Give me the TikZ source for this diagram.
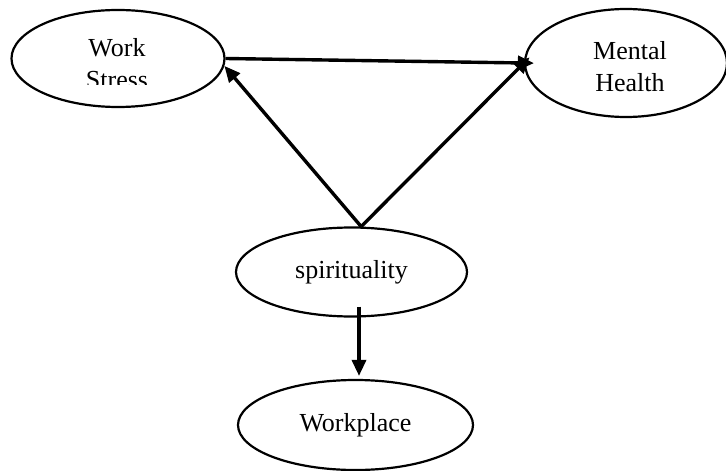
\documentclass[tikz,border=0pt]{standalone}
\usepackage{fontspec}
\setmainfont{Liberation Serif}
\usetikzlibrary{shapes.geometric,arrows.meta}
\begin{document}
\begin{tikzpicture}[x=0.5pt,y=-0.5pt,
  font=\fontsize{13}{16}\selectfont,
  myblob/.style={ellipse,draw,line width=1.1pt,inner sep=0pt,align=center},
  myarrow/.style={line width=1.7pt,-{Triangle[length=8pt,width=7pt]}}]
  \useasboundingbox (0,0) rectangle (726,470);
  \node [myblob,minimum width=106.5pt,minimum height=48.5pt] (work) at (118,58.5) {};
  \begin{scope}
    \clip (0,0) rectangle (726,85);
    \node [align=center] (worktext) at (117,64) {Work\\Stress};
  \end{scope}
  \node [myblob,minimum width=101pt,minimum height=54pt] (mental) at (626,63) {};
  \node [align=center] (mentaltext) at (630,67) {Mental\\Health};
  \node [myblob,minimum width=115.5pt,minimum height=44.5pt] (spirit) at (351.5,272) {spirituality};
  \node [myblob,minimum width=117.5pt,minimum height=45pt] (place) at (355.5,425) {Workplace};
  \draw [myarrow,shorten >=-5pt] (work.east) -- (mental.west);
  \draw [myarrow] (spirit.78) -- (work.-4);
  \draw [myarrow,shorten >=-4pt] (spirit.78) -- (mental.west);
  \draw [myarrow] ([xshift=3.75pt,yshift=5.5pt]spirit.south) -- ([xshift=1.75pt,yshift=1.5pt]place.north);
\end{tikzpicture}
\end{document}
